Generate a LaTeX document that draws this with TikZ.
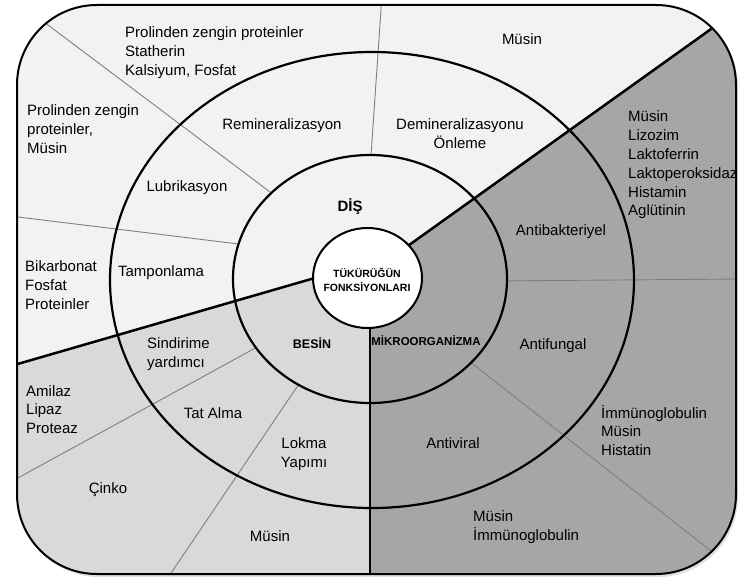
\documentclass[tikz,border=0pt]{standalone}
\usepackage{fontspec}
\setmainfont{Liberation Sans}
\definecolor{lightsec}{HTML}{F2F2F2}
\definecolor{midsec}{HTML}{D9D9D9}
\definecolor{darksec}{HTML}{A6A6A6}
\definecolor{thinline}{HTML}{7F7F7F}
\tikzset{
  lbl/.style={inner sep=0pt, align=center, font=\fontsize{15}{18.8}\selectfont},
  lbll/.style={inner sep=0pt, align=left, anchor=west, font=\fontsize{15}{18.8}\selectfont},
  thin sep/.style={draw=thinline, line width=0.9pt},
  ring/.style={draw=black, line width=2.2pt},
  secline/.style={draw=black, line width=2.5pt},
}
\begin{document}
\begin{tikzpicture}[x=1pt,y=-1pt]
\useasboundingbox (0,0) rectangle (738,578);
% shadow
\fill[black!12, rounded corners=80pt] (19,7) rectangle (738,577);
\fill[lightsec, rounded corners=80pt] (17,5) rectangle (736,574);
\begin{scope}
  \clip[rounded corners=80pt] (17,5) rectangle (736,574);
  \fill[midsec] (370,262) -- (-10,372) -- (-10,600) -- (370,600) -- cycle;
  \fill[darksec] (370,273) -- (760,-6) -- (760,600) -- (370,600) -- cycle;
  % thin separators
  \draw[thin sep] (40,19) -- (290,207);
  \draw[thin sep] (10,216) -- (255,246);
  \draw[thin sep] (382,-5) -- (370,170);
  \draw[thin sep] (490,281) -- (745,279);
  \draw[thin sep] (460,354) -- (720,558);
  \draw[thin sep] (270,340) -- (5,485);
  \draw[thin sep] (305,375) -- (165,582);
  % refill inside middle ring
  \begin{scope}
    \clip (370,279) ellipse [x radius=137pt, y radius=124pt];
    \fill[lightsec] (200,100) rectangle (560,460);
    \fill[midsec] (370,262) -- (-10,372) -- (-10,600) -- (370,600) -- cycle;
    \fill[darksec] (370,273) -- (760,-6) -- (760,600) -- (370,600) -- cycle;
  \end{scope}
  % rings
  \draw[ring] (372,280) ellipse [x radius=262pt, y radius=228pt];
  \draw[ring] (370,279) ellipse [x radius=137pt, y radius=124pt];
  % sector lines
  \draw[secline] (370,273) -- (760,-6);
  \draw[secline] (370,262) -- (-10,372);
  \draw[secline] (370,280) -- (370,600);
\end{scope}
% centre
\fill[white, draw=black, line width=2pt] (367.5,278) ellipse [x radius=54.5pt, y radius=50pt];
% border
\draw[black, line width=2pt, rounded corners=80pt] (17,5) rectangle (736,574);
% labels
\node[inner sep=0pt, align=center, font=\fontsize{10.5}{14}\selectfont\bfseries] (center) at (367,280) {TÜKÜRÜĞÜN\\FONKSİYONLARI};
\node[inner sep=0pt, font=\fontsize{15}{18}\selectfont\bfseries] (dis) at (350,207) {DİŞ};
\node[inner sep=0pt, font=\fontsize{12.5}{15}\selectfont\bfseries] (besin) at (312,343) {BESİN};
\node[inner sep=0pt, font=\fontsize{11.5}{14}\selectfont\bfseries] (mikro) at (426,341) {MİKROORGANİZMA};

\node[lbll] (t1) at (125,52.5) {Prolinden zengin proteinler\\Statherin\\Kalsiyum, Fosfat};
\node[lbll] (t2) at (27,129) {Prolinden zengin\\proteinler,\\Müsin};
\node[lbll] (t3) at (25,285) {Bikarbonat\\Fosfat\\Proteinler};
\node[lbll] (t4) at (628,165) {Müsin\\Lizozim\\Laktoferrin\\Laktoperoksidaz\\Histamin\\Aglütinin};
\node[lbll] (t5) at (147,354) {Sindirime\\yardımcı};
\node[lbll] (t6) at (26,409.5) {Amilaz\\Lipaz\\Proteaz};
\node[lbll] (t7) at (601,430.5) {İmmünoglobulin\\Müsin\\Histatin};
\node[lbll] (t8) at (473,527) {Müsin\\İmmünoglobulin};

\node[lbl] (m1) at (522,39) {Müsin};
\node[lbl] (m2) at (282,126) {Remineralizasyon};
\node[lbl] (m3) at (460,134) {Demineralizasyonu\\Önleme};
\node[lbl] (m4) at (187,188) {Lubrikasyon};
\node[lbl] (m5) at (161,273) {Tamponlama};
\node[lbl] (m6) at (561,232) {Antibakteriyel};
\node[lbl] (m7) at (553,346) {Antifungal};
\node[lbl] (m8) at (213,413) {Tat Alma};
\node[lbl] (m9) at (453,443) {Antiviral};
\node[lbl] (m10) at (304,454) {Lokma\\Yapımı};
\node[lbl] (m11) at (108,490) {Çinko};
\node[lbl] (m12) at (270,536) {Müsin};
\end{tikzpicture}
\end{document}
